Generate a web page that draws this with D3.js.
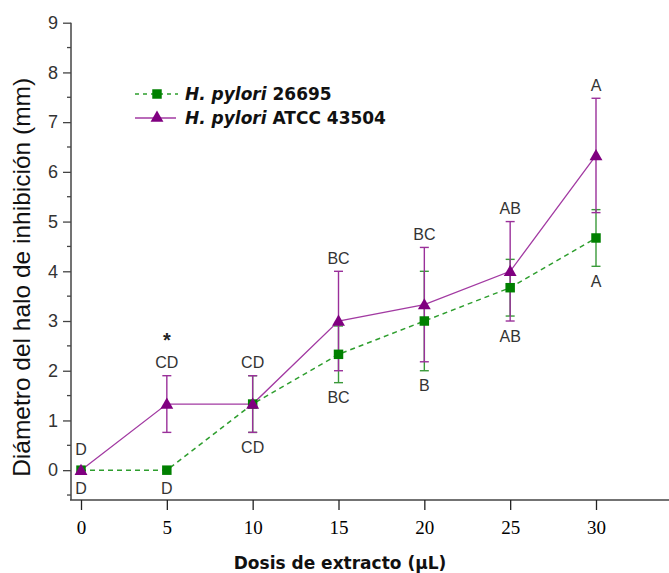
<!DOCTYPE html>
<meta charset="utf-8">
<head>
  <script src="https://d3js.org/d3.v7.min.js"></script>
  <style>
    body { margin: 0; background: #fff; }
  </style>
</head>
<body>
<div id="chart"></div>
<script>
// doses (uL)
var doses = [0, 5, 10, 15, 20, 25, 30];

// H. pylori 26695 (green)
var mean26695 = [0, 0, 1.33, 2.33, 3.0, 3.67, 4.67];
var sd26695   = [0, 0, 0.57, 0.57, 1.0, 0.57, 0.57];
var let26695  = ["D", "D", "CD", "BC", "B", "AB", "A"];

// H. pylori ATCC 43504 (purple)
var mean43504 = [0, 1.33, 1.33, 3.0, 3.33, 4.0, 6.33];
var sd43504   = [0, 0.57, 0.57, 1.0, 1.15, 1.0, 1.15];
var let43504  = ["D", "CD", "CD", "BC", "BC", "AB", "A"];

var starAt = [5];   // dose with significant difference
var yTicks = [0, 1, 2, 3, 4, 5, 6, 7, 8, 9];
var xTicks = [0, 5, 10, 15, 20, 25, 30];

var W = 669, H = 573;
var green = "#008000", greenLine = "#2e9e2e";
var purple = "#800080", purpleLine = "#a23aa2";

var svg = d3.select("#chart").append("svg")
    .attr("width", W).attr("height", H);

var x = d3.scaleLinear().domain([0, 30]).range([81, 596]);
var y = d3.scaleLinear().domain([-0.6, 9]).range([500, 22.7]);

// axes
var yAxis = svg.append("g").attr("transform", "translate(71,0)")
    .call(d3.axisLeft(y).tickValues(yTicks).tickSize(8).tickPadding(5).tickFormat(d3.format("d")));
yAxis.select(".domain").remove();
yAxis.selectAll("text").attr("font-family", "Liberation Sans, Arial").attr("font-size", 18).attr("fill", "#333");
yAxis.selectAll("line").attr("stroke", "#444").attr("stroke-width", 1.3);
// minor ticks
svg.append("g").selectAll("line")
  .data(d3.range(-0.5, 9, 1))
  .join("line")
    .attr("x1", 67).attr("x2", 71)
    .attr("y1", d => y(d)).attr("y2", d => y(d))
    .attr("stroke", "#444").attr("stroke-width", 1.3);

svg.append("line").attr("x1", 71).attr("x2", 71).attr("y1", y(9)).attr("y2", y(-0.6))
    .attr("stroke", "#444").attr("stroke-width", 1.5);
svg.append("line").attr("x1", 70).attr("x2", 669).attr("y1", y(-0.6)).attr("y2", y(-0.6))
    .attr("stroke", "#444").attr("stroke-width", 1.5);

var xAxis = svg.append("g").attr("transform", "translate(0," + y(-0.6) + ")")
    .call(d3.axisBottom(x).tickValues(xTicks).tickSize(10).tickPadding(11));
xAxis.select(".domain").remove();
xAxis.selectAll("text").attr("font-family", "Liberation Serif, Times New Roman").attr("font-size", 19).attr("fill", "#000");
xAxis.selectAll("line").attr("stroke", "#222").attr("stroke-width", 1.3);

// axis titles
svg.append("text")
    .attr("transform", "translate(30," + ((y(-0.6) + y(9)) / 2 + 16) + ") rotate(-90)")
    .attr("text-anchor", "middle")
    .attr("font-family", "Liberation Sans, Arial").attr("font-size", 24.5).attr("fill", "#111")
    .text("Diámetro del halo de inhibición (mm)");

svg.append("text")
    .attr("x", 340).attr("y", 569)
    .attr("text-anchor", "middle")
    .attr("font-family", "DejaVu Sans").attr("font-weight", "bold").attr("font-size", 17).attr("fill", "#111")
    .text("Dosis de extracto (µL)");

// series
var g26695 = doses.map((d, i) => ({x: d, m: mean26695[i], sd: sd26695[i], lab: let26695[i]}));
var g43504 = doses.map((d, i) => ({x: d, m: mean43504[i], sd: sd43504[i], lab: let43504[i]}));

var line = d3.line().x(d => x(d.x)).y(d => y(d.m));

svg.append("path").datum(g26695).attr("d", line)
    .attr("fill", "none").attr("stroke", greenLine).attr("stroke-width", 1.5).attr("stroke-dasharray", "5,4");
svg.append("path").datum(g43504).attr("d", line)
    .attr("fill", "none").attr("stroke", purpleLine).attr("stroke-width", 1.3);

function errorBars(data, col) {
  var g = svg.append("g").attr("stroke", col).attr("stroke-width", 1.4);
  var e = data.filter(d => d.sd > 0);
  g.selectAll(".v").data(e).join("line")
    .attr("x1", d => x(d.x)).attr("x2", d => x(d.x))
    .attr("y1", d => y(d.m - d.sd)).attr("y2", d => y(d.m + d.sd));
  g.selectAll(".t").data(e).join("line")
    .attr("x1", d => x(d.x) - 4.5).attr("x2", d => x(d.x) + 4.5)
    .attr("y1", d => y(d.m + d.sd)).attr("y2", d => y(d.m + d.sd));
  g.selectAll(".b").data(e).join("line")
    .attr("x1", d => x(d.x) - 4.5).attr("x2", d => x(d.x) + 4.5)
    .attr("y1", d => y(d.m - d.sd)).attr("y2", d => y(d.m - d.sd));
}
errorBars(g26695, "#3a9a3a");
errorBars(g43504, "#9a309a");

svg.append("g").selectAll("path").data(g26695).join("path")
    .attr("transform", d => "translate(" + x(d.x) + "," + y(d.m) + ")")
    .attr("d", d3.symbol().type(d3.symbolSquare).size(90))
    .attr("fill", green);
svg.append("g").selectAll("path").data(g43504).join("path")
    .attr("transform", d => "translate(" + x(d.x) + "," + (y(d.m) + 1) + ")")
    .attr("d", d3.symbol().type(d3.symbolTriangle).size(72))
    .attr("fill", purple);

// letters: purple above, green below
function labelFont(sel) {
  sel.attr("font-family", "Liberation Sans, Arial").attr("font-size", 16)
     .attr("fill", "#333").attr("text-anchor", "middle").attr("dominant-baseline", "central");
}
var aboveY = doses.map((d, i) => Math.min(y(Math.max(mean43504[i] + sd43504[i], mean26695[i] + sd26695[i])) - 13, y(mean43504[i]) - 21));
var belowY = doses.map((d, i) => Math.max(y(Math.min(mean43504[i] - sd43504[i], mean26695[i] - sd26695[i])) + 15, y(mean26695[i]) + 18));

svg.append("g").selectAll("text").data(g43504).join("text")
    .attr("x", d => x(d.x)).attr("y", (d, i) => aboveY[i])
    .text(d => d.lab).call(labelFont);
svg.append("g").selectAll("text").data(g26695).join("text")
    .attr("x", d => x(d.x)).attr("y", (d, i) => belowY[i])
    .text(d => d.lab).call(labelFont);

svg.append("g").selectAll("text").data(starAt).join("text")
    .attr("x", d => x(d)).attr("y", d => aboveY[doses.indexOf(d)] - 16)
    .attr("text-anchor", "middle")
    .attr("font-family", "Liberation Sans, Arial").attr("font-weight", "bold").attr("font-size", 20)
    .attr("fill", "#222").text("*");

// legend
var leg = svg.append("g");
leg.append("line").attr("x1", 135).attr("x2", 178).attr("y1", 94).attr("y2", 94)
    .attr("stroke", greenLine).attr("stroke-width", 1.5).attr("stroke-dasharray", "4,4");
leg.append("path").attr("transform", "translate(157,94)")
    .attr("d", d3.symbol().type(d3.symbolSquare).size(90)).attr("fill", green);
leg.append("line").attr("x1", 135).attr("x2", 176).attr("y1", 118).attr("y2", 118)
    .attr("stroke", purpleLine).attr("stroke-width", 1.3);
leg.append("path").attr("transform", "translate(157,118)")
    .attr("d", d3.symbol().type(d3.symbolTriangle).size(72)).attr("fill", purple);

var legNames = [["H. pylori", " 26695"], ["H. pylori", " ATCC 43504"]];
legNames.forEach(function(n, i) {
  var t = leg.append("text").attr("x", 185).attr("y", 100 + i * 24)
      .attr("font-family", "DejaVu Sans").attr("font-weight", "bold").attr("font-size", 17).attr("fill", "#111");
  t.append("tspan").attr("font-style", "italic").text(n[0]);
  t.append("tspan").text(n[1]);
});
</script>
</body>
